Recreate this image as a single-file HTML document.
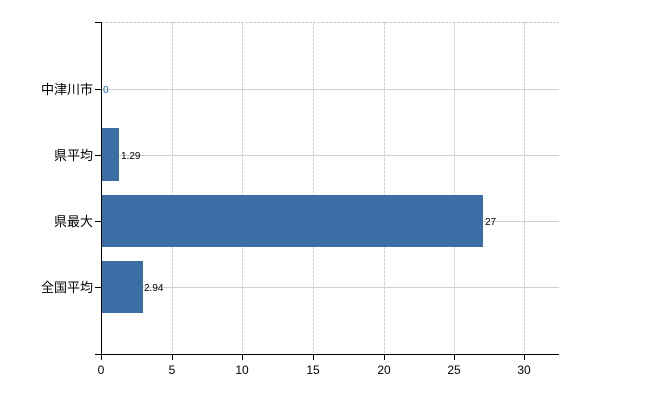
<!DOCTYPE html>
<html><head><meta charset="utf-8"><style>body{margin:0;background:#fff}svg{display:block}text{font-family:"Liberation Sans","Noto Sans CJK JP",sans-serif}</style></head><body>
<svg width="650" height="400" xmlns="http://www.w3.org/2000/svg">
<g stroke="#d0d0d0" stroke-width="1" stroke-dasharray="3,1">
<line x1="101" y1="22.5" x2="559" y2="22.5"/>
<line x1="172.5" y1="22" x2="172.5" y2="354"/>
<line x1="242.5" y1="22" x2="242.5" y2="354"/>
<line x1="313.5" y1="22" x2="313.5" y2="354"/>
<line x1="384.5" y1="22" x2="384.5" y2="354"/>
<line x1="454.5" y1="22" x2="454.5" y2="354"/>
<line x1="524.5" y1="22" x2="524.5" y2="354"/>
</g>
<g stroke="#d0d0d0" stroke-width="1">
<line x1="101" y1="89.5" x2="559" y2="89.5"/>
<line x1="101" y1="155.5" x2="559" y2="155.5"/>
<line x1="101" y1="221.5" x2="559" y2="221.5"/>
<line x1="101" y1="287.5" x2="559" y2="287.5"/>
</g>
<g fill="#3a6ea5">
<rect x="101" y="128" width="18" height="53"/>
<rect x="101" y="195" width="382" height="52"/>
<rect x="101" y="261" width="42" height="52"/>
</g>
<g stroke="#000" stroke-width="1">
<line x1="101.5" y1="22" x2="101.5" y2="354"/>
<line x1="95" y1="22.5" x2="101" y2="22.5"/>
<line x1="95" y1="89.5" x2="101" y2="89.5"/>
<line x1="95" y1="155.5" x2="101" y2="155.5"/>
<line x1="95" y1="221.5" x2="101" y2="221.5"/>
<line x1="95" y1="287.5" x2="101" y2="287.5"/>
<line x1="95" y1="354.5" x2="559" y2="354.5"/>
<line x1="101.5" y1="354" x2="101.5" y2="360"/>
<line x1="172.5" y1="354" x2="172.5" y2="360"/>
<line x1="242.5" y1="354" x2="242.5" y2="360"/>
<line x1="313.5" y1="354" x2="313.5" y2="360"/>
<line x1="384.5" y1="354" x2="384.5" y2="360"/>
<line x1="454.5" y1="354" x2="454.5" y2="360"/>
<line x1="524.5" y1="354" x2="524.5" y2="360"/>
</g>
<g font-size="13" text-anchor="end" fill="#000">
<text x="93" y="94">中津川市</text>
<text x="93" y="160">県平均</text>
<text x="93" y="226">県最大</text>
<text x="93" y="292">全国平均</text>
</g>
<g font-size="12" text-anchor="middle" fill="#000">
<text x="101" y="374">0</text>
<text x="172" y="374">5</text>
<text x="242" y="374">10</text>
<text x="313" y="374">15</text>
<text x="384" y="374">20</text>
<text x="454" y="374">25</text>
<text x="524" y="374">30</text>
</g>
<g font-size="10" fill="#000">
<text x="103" y="93" fill="#1a6fb5">0</text>
<text x="121" y="159">1.29</text>
<text x="485" y="225">27</text>
<text x="144" y="291">2.94</text>
</g>
</svg>
</body></html>
